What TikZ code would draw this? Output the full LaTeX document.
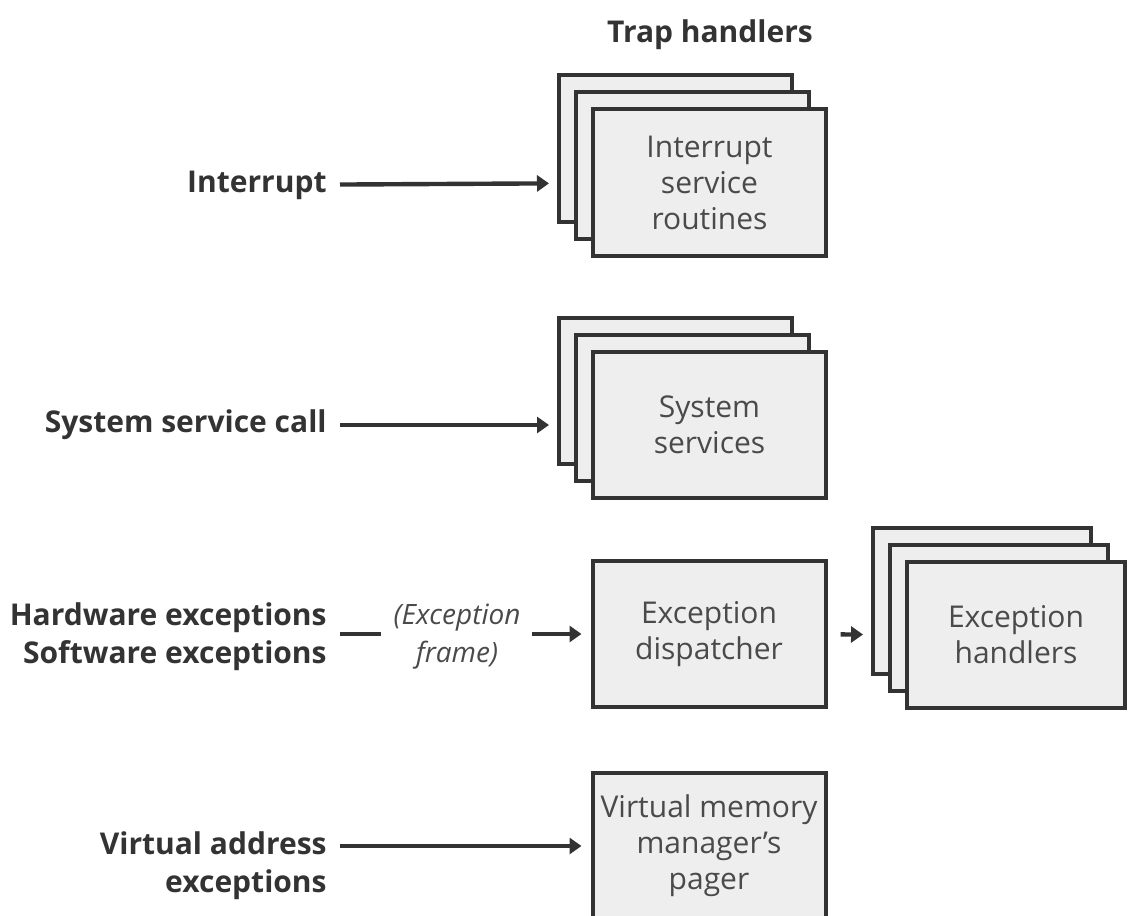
\documentclass[tikz,border=0pt]{standalone}
\usepackage{fontspec}
\setmainfont{Open Sans}
\usetikzlibrary{arrows.meta,positioning,shadows}
\definecolor{trapline}{HTML}{333333}
\definecolor{trapfill}{HTML}{EEEEEE}
\definecolor{traptext}{HTML}{4A4A4A}

\begin{document}
\begin{tikzpicture}[
  x=0.5pt, y=-0.5pt,
  font=\fontsize{15}{18}\selectfont,
  box/.style={rectangle, draw=trapline, fill=trapfill, line width=2pt,
    minimum width=116.5pt, minimum height=73pt, align=center,
    text=traptext, inner sep=1pt},
  stack/.style={box, double copy shadow={shadow xshift=-8.5pt, shadow yshift=8.5pt}},
  src/.style={font=\fontsize{15}{19}\selectfont\bfseries, text=trapline,
    align=right, anchor=east, inner sep=0pt},
  arr/.style={-{Triangle[length=6pt,width=8pt]}, trapline, line width=2.2pt,
    shorten <=6.5pt, shorten >=4.5pt},
  tostack/.style={arr, shorten >=21pt},
]
  \useasboundingbox (0,0) rectangle (1129,915);

  \node[font=\fontsize{15}{18}\selectfont\bfseries, text=trapline] (title) at (710,35) {Trap handlers};

  % handler boxes
  \node[stack] (isr) at (709.5,182.5) {Interrupt\\service\\routines};
  \node[stack] (svc) at (709.5,425) {System\\services};
  \node[box] (disp) at (709,634) {Exception\\dispatcher};
  \node[stack, minimum width=109pt] (exh) at (1016,635) {Exception\\handlers};
  \node[box] (vmm) at (709,846) {Virtual memory\\manager's\\pager};

  % sources
  \node[src] (intr) at (327,185) {Interrupt};
  \node[src] (sysc) at (327,425) {System service call};
  \node[src] (hwsw) at (327,637) {Hardware exceptions\\Software exceptions};
  \node[font=\fontsize{14}{19}\selectfont\itshape, text=traptext, align=center, inner sep=0pt] (frame) at (457,637) {(Exception\\frame)};
  \node[src] (vaddr) at (327,866) {Virtual address\\exceptions};

  \draw[tostack] (intr) -- (isr);
  \draw[tostack] (sysc) -- (svc);
  \draw[trapline, line width=2.2pt, shorten <=6.5pt, shorten >=6pt] (hwsw.east |- disp) -- (frame.west |- disp);
  \draw[arr, shorten <=5.5pt] (frame.east |- disp) -- (disp);
  \draw[tostack] (disp) -- (exh);
  \draw[arr] (vaddr.east |- vmm) -- (vmm);
\end{tikzpicture}
\end{document}
